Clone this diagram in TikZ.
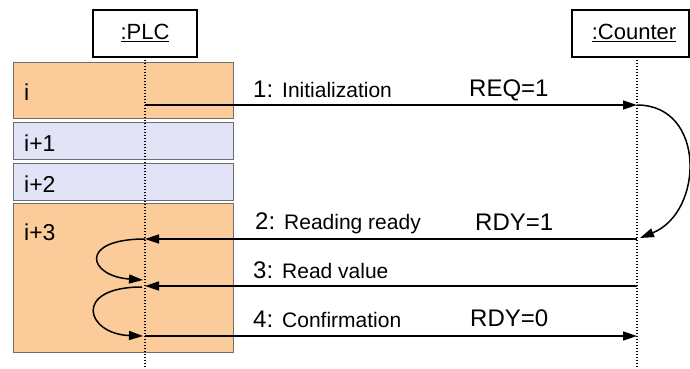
\documentclass[tikz,border=0pt]{standalone}
\usepackage{fontspec}
\setmainfont{Liberation Sans}
\usetikzlibrary{arrows.meta}
\definecolor{slotorange}{HTML}{FBCB9A}
\definecolor{slotlav}{HTML}{E3E3F8}
\definecolor{slotborder}{HTML}{6E6E6E}
\tikzset{
  objbox/.style={draw=black, line width=1.6pt, fill=white},
  slotbox/.style={draw=slotborder, line width=0.9pt},
  lifeline/.style={line width=1.4pt, dash pattern=on 1.4pt off 1.6pt},
  msg/.style={line width=1.5pt, -{Triangle[length=14pt,width=9pt]}},
  loopmsg/.style={line width=1.5pt, -{Triangle[length=14pt,width=9pt]}},
  slotlabel/.style={anchor=base west, inner sep=0pt, font=\fontsize{23}{25}\selectfont},
  objlabel/.style={inner sep=0pt, font=\fontsize{22}{24}\selectfont},
  msglabel/.style={anchor=base west, inner sep=0pt, font=\fontsize{21}{24}\selectfont},
  siglabel/.style={anchor=base west, inner sep=0pt, font=\fontsize{24}{26}\selectfont},
}
\newcommand{\msgnum}[1]{{\fontsize{24}{26}\selectfont #1}\hspace{9pt}}
\begin{document}
\begin{tikzpicture}[x=1pt,y=-1pt]
\useasboundingbox[fill=white] (0,0) rectangle (690,369);
% time slots
\path[slotbox, fill=slotorange] (13,62) rectangle (233,118);
\path[slotbox, fill=slotlav] (13,122) rectangle (233,159);
\path[slotbox, fill=slotlav] (13,163) rectangle (233,200);
\path[slotbox, fill=slotorange] (13,203) rectangle (233,352);
\node[slotlabel] (li) at (24,100) {i};
\node[slotlabel] (li1) at (24,151) {i+1};
\node[slotlabel] (li2) at (24,192) {i+2};
\node[slotlabel] (li3) at (24,240) {i+3};
% objects
\draw[objbox] (93,10) rectangle (197,57);
\node[objlabel] (plc) at (145,33) {\underline{:PLC}};
\draw[objbox] (572,10) rectangle (689,57);
\node[objlabel] (ctr) at (634,33) {\underline{:Counter}};
% lifelines
\coordinate (pt) at (145,57);
\coordinate (pb) at (145,369);
\coordinate (ct) at (637,57);
\coordinate (cb) at (637,369);
\draw[lifeline] (pt) -- (pb);
\draw[lifeline] (ct) -- (cb);
% message points
\coordinate (p1) at (145,105);
\coordinate (c1) at (637,105);
\coordinate (p2) at (145,239);
\coordinate (c2) at (637,239);
\coordinate (c2t) at (640,238);
\coordinate (p3) at (145,286);
\coordinate (c3) at (637,286);
\coordinate (p2s) at (143,280);
\coordinate (p3s) at (142,287);
\coordinate (p4) at (145,336);
\coordinate (p4s) at (143,336);
\coordinate (c4) at (637,336);
% messages
\draw[msg] (p1) -- (c1);
\draw[loopmsg] (c1) .. controls (706,105) and (704,212) .. (c2t);
\draw[msg] (c2) -- (p2);
\draw[loopmsg] (p2) .. controls (78,239) and (88,276) .. (p2s);
\draw[msg] (c3) -- (p3);
\draw[loopmsg] (p3s) .. controls (72,287) and (86,334) .. (p4s);
\draw[msg] (p4) -- (c4);
% labels
\node[msglabel] (m1) at (253,97) {\msgnum{1:}Initialization};
\node[siglabel] (s1) at (469,96) {REQ=1};
\node[msglabel] (m2) at (255,229) {\msgnum{2:}Reading ready};
\node[siglabel] (s2) at (475,230) {RDY=1};
\node[msglabel] (m3) at (253,278) {\msgnum{3:}Read value};
\node[msglabel] (m4) at (253,327) {\msgnum{4:}Confirmation};
\node[siglabel] (s4) at (470,326) {RDY=0};
\end{tikzpicture}
\end{document}
